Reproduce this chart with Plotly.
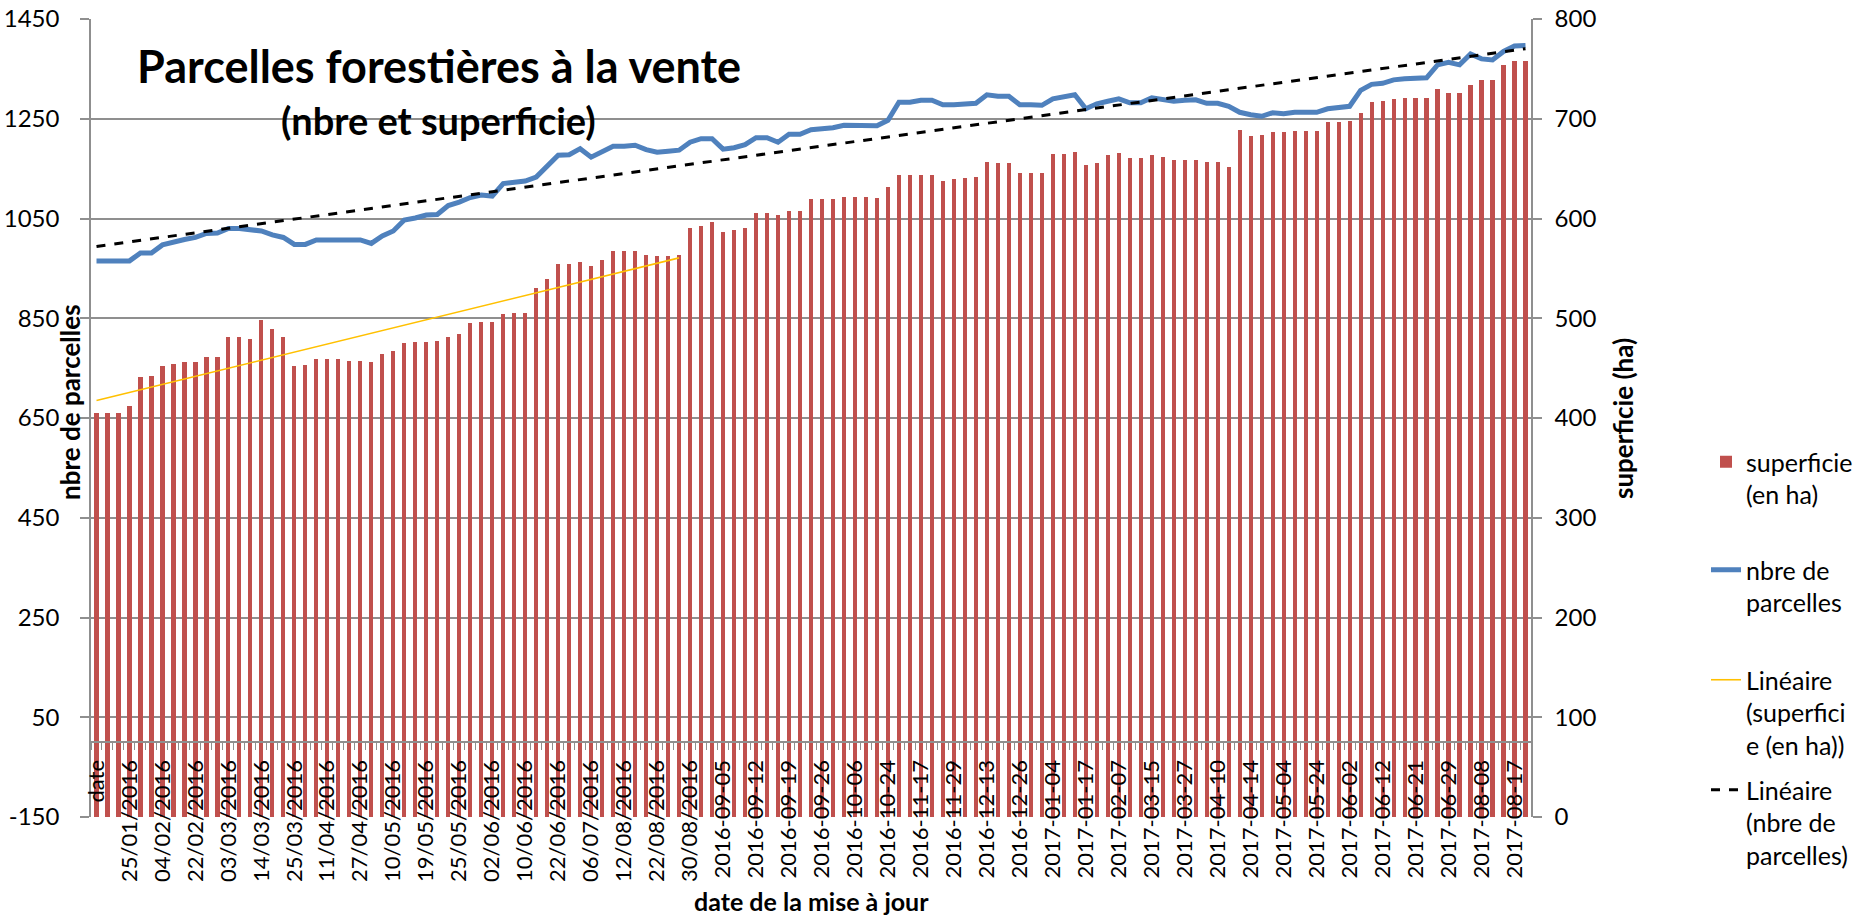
import numpy as np
import plotly.graph_objects as go

# ---- data ----
superficie = [
    405, 405, 405, 412, 441, 442, 452, 454, 456, 456, 461, 461, 481, 481, 479, 498, 489, 481,
    452, 453, 459, 459, 459, 457, 457, 456, 464, 467, 475, 476, 476, 477, 481,
    484, 495, 496, 496, 504, 505, 505, 530, 539, 554, 554, 556, 552, 558, 567, 567, 567, 563,
    562, 562, 563, 590, 592, 596, 586, 588, 590, 606, 606, 604, 608, 608, 620,
    620, 620, 622, 622, 622, 621, 632, 644, 644, 644, 644, 638, 640, 641, 642, 657, 656, 656,
    646, 646, 646, 665, 665, 667, 654, 656, 664, 666, 661, 661, 664, 662,
    659, 659, 659, 657, 657, 652, 689, 683, 684, 687, 687, 688, 688, 688, 697, 697, 698, 706,
    717, 718, 720, 721, 721, 721, 730, 726, 726, 734, 739, 739, 754, 758, 758,
]
nbre_parcelles = [
    965, 965, 965, 965, 981, 981, 997, 1003, 1008, 1012, 1020, 1021, 1030, 1030, 1027, 1025, 1017, 1012,
    998, 998, 1007, 1007, 1007, 1007, 1007, 1000, 1015, 1025, 1047, 1051, 1057, 1058, 1076,
    1083, 1092, 1097, 1095, 1120, 1123, 1125, 1133, 1155, 1177, 1178, 1190, 1173, 1185, 1195, 1195, 1197, 1188,
    1183, 1185, 1187, 1203, 1210, 1210, 1189, 1192, 1198, 1212, 1212, 1203, 1219, 1219, 1228,
    1230, 1232, 1237, 1237, 1238, 1236, 1247, 1283, 1283, 1287, 1287, 1278, 1278, 1279, 1281, 1298, 1295, 1295,
    1278, 1278, 1277, 1290, 1295, 1298, 1270, 1280, 1285, 1290, 1282, 1282, 1292, 1289,
    1285, 1287, 1288, 1281, 1281, 1275, 1263, 1258, 1255, 1262, 1260, 1263, 1263, 1263, 1270, 1272, 1275, 1307,
    1319, 1321, 1328, 1330, 1332, 1332, 1358, 1363, 1358, 1380, 1370, 1368, 1385, 1396, 1397,
]
tick_labels = [
    "date", "25/01/2016", "04/02/2016", "22/02/2016", "03/03/2016", "14/03/2016", "25/03/2016",
    "11/04/2016", "27/04/2016", "10/05/2016", "19/05/2016", "25/05/2016", "02/06/2016", "10/06/2016",
    "22/06/2016", "06/07/2016", "12/08/2016", "22/08/2016", "30/08/2016",
    "2016-09-05", "2016-09-12", "2016-09-19", "2016-09-26", "2016-10-06", "2016-10-24", "2016-11-17",
    "2016-11-29", "2016-12-13", "2016-12-26", "2017-01-04", "2017-01-17", "2017-02-07", "2017-03-15",
    "2017-03-27", "2017-04-10", "2017-04-14", "2017-05-04", "2017-05-24", "2017-06-02", "2017-06-12",
    "2017-06-21", "2017-06-29", "2017-08-08", "2017-08-17",
]
left_ticks = [-150, 50, 250, 450, 650, 850, 1050, 1250, 1450]
left_tick_labels = ["-150", "50", "250", "450", "650", "850", "1050", "1250", "1450"]
right_ticks = [0, 100, 200, 300, 400, 500, 600, 700, 800]
label_step = 3
trend_sup_points = 54  # the superficie trend line covers the first 54 points

x = list(range(len(superficie)))
tickvals = x[::label_step][:len(tick_labels)]

# linear trends (least squares, as Excel does)
a_n, b_n = np.polyfit(x, nbre_parcelles, 1)
trend_n = [a_n * xi + b_n for xi in x]
xs = x[:trend_sup_points]
a_s, b_s = np.polyfit(xs, superficie[:trend_sup_points], 1)
trend_s = [a_s * xi + b_s for xi in xs]

FONT = "Lato"
GRID = "#8f8f8f"

fig = go.Figure()
fig.add_trace(go.Bar(
    x=x, y=superficie, yaxis="y2", name="superficie<br>(en ha)",
    marker=dict(color="#C0504D", line=dict(width=0)), width=0.38, legend="legend",
))
fig.add_trace(go.Scatter(
    x=x, y=nbre_parcelles, mode="lines", name="nbre de<br>parcelles",
    line=dict(color="#4F81BD", width=5), legend="legend2",
))
fig.add_trace(go.Scatter(
    x=xs, y=trend_s, yaxis="y2", mode="lines", name="Linéaire<br>(superfici<br>e (en ha))",
    line=dict(color="#FFC000", width=1.6), legend="legend3",
))
fig.add_trace(go.Scatter(
    x=x, y=trend_n, mode="lines", name="Linéaire<br>(nbre de<br>parcelles)",
    line=dict(color="black", width=3, dash="dash"), legend="legend4",
))

W, H = 1864, 920
L, R, T, B = 91, 1531, 19, 817


def px_x(p):
    return (p - L) / (R - L)


def px_y(p):
    return (B - p) / (B - T)


def legend_at(top_px):
    return dict(
        xref="container", yref="container",
        x=1706 / W, y=1 - top_px / H, xanchor="left", yanchor="top",
        font=dict(family=FONT, size=25, color="black"),
        valign="top", bgcolor="rgba(0,0,0,0)", borderwidth=0,
    )


ymin, ymax = -150, 1450
zero_pos = (0 - ymin) / (ymax - ymin)

fig.update_layout(
    width=W, height=H,
    margin=dict(l=L, r=W - R, t=T, b=H - B, pad=0, autoexpand=False),
    paper_bgcolor="white", plot_bgcolor="white",
    font=dict(family=FONT, size=24, color="black"),
    bargap=0,
    xaxis=dict(
        range=[-0.5, len(x) - 0.5], automargin=False,
        anchor="free", position=zero_pos,
        showline=True, linecolor=GRID, linewidth=2,
        showgrid=False, zeroline=False,
        tickmode="array", tickvals=tickvals, ticktext=tick_labels,
        tickangle=-90, tickfont=dict(family=FONT, size=22, color="black"),
        ticks="outside", ticklen=8, tickcolor="rgba(0,0,0,0)",
        minor=dict(ticks="outside", ticklen=7, tickcolor=GRID, tickwidth=1,
                   tickmode="linear", tick0=-0.5, dtick=1, showgrid=False),
    ),
    yaxis=dict(
        range=[ymin, ymax], tickmode="array", tickvals=left_ticks, ticktext=left_tick_labels,
        automargin=False,
        showgrid=True, gridcolor=GRID, gridwidth=1.5,
        showline=True, linecolor=GRID, linewidth=1.5,
        ticks="outside", ticklen=9, tickcolor=GRID, tickwidth=1.5,
        zeroline=False, tickfont=dict(family=FONT, size=24, color="black"),
        ticklabelstandoff=16,
    ),
    yaxis2=dict(
        range=[0, 800], tickmode="array", tickvals=right_ticks, automargin=False,
        overlaying="y", side="right",
        showgrid=False, showline=True, linecolor=GRID, linewidth=1.5,
        ticks="outside", ticklen=9, tickcolor=GRID, tickwidth=1.5,
        zeroline=False, tickfont=dict(family=FONT, size=24, color="black"),
        ticklabelstandoff=8,
    ),
    legend=legend_at(439),
    legend2=legend_at(547),
    legend3=legend_at(657),
    legend4=legend_at(767),
    showlegend=True,
    annotations=[
        dict(text="<b>Parcelles forestières à la vente</b>", xref="paper", yref="paper",
             x=px_x(439), y=px_y(66), xanchor="center", yanchor="middle", showarrow=False,
             font=dict(family=FONT, size=45, color="black")),
        dict(text="<b>(nbre et superficie)</b>", xref="paper", yref="paper",
             x=px_x(438), y=px_y(120), xanchor="center", yanchor="middle", showarrow=False,
             font=dict(family=FONT, size=38, color="black")),
        dict(text="<b>nbre de parcelles</b>", xref="paper", yref="paper",
             x=px_x(70), y=px_y(402), xanchor="center", yanchor="middle", showarrow=False,
             textangle=-90, font=dict(family=FONT, size=26, color="black")),
        dict(text="<b>superficie (ha)</b>", xref="paper", yref="paper",
             x=px_x(1623), y=px_y(419), xanchor="center", yanchor="middle", showarrow=False,
             textangle=-90, font=dict(family=FONT, size=26, color="black")),
        dict(text="<b>date de la mise à jour</b>", xref="paper", yref="paper",
             x=px_x(811), y=px_y(901), xanchor="center", yanchor="middle", showarrow=False,
             font=dict(family=FONT, size=25, color="black")),
    ],
)

# remove the browser's default 8px page margin so the figure sits at the window origin
fig.write_html("out.html", config={"displayModeBar": False},
               post_script="document.body.style.margin='0';")
